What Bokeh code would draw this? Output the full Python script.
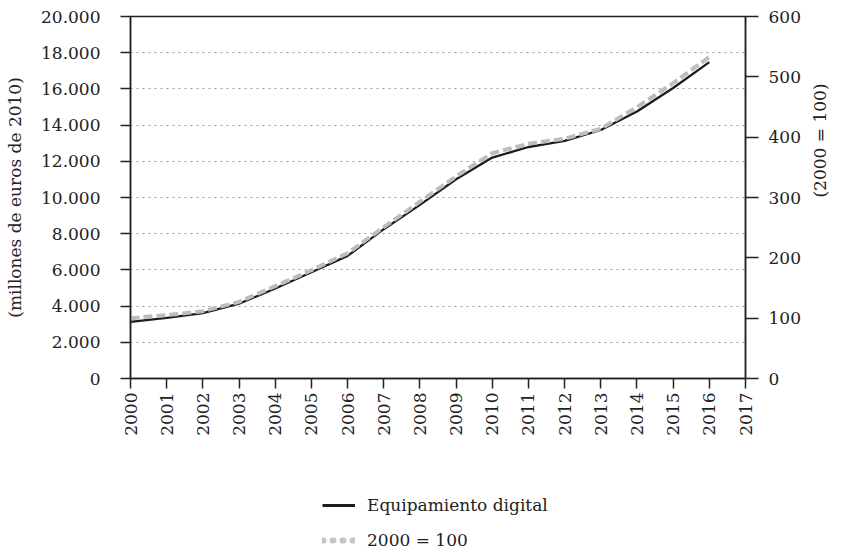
import math
from bokeh.plotting import figure
from bokeh.layouts import column
from bokeh.models import Range1d, LinearAxis, FixedTicker, Legend, LegendItem
from bokeh.embed import file_html
from bokeh.resources import INLINE

# ---- data ----
years = list(range(2000, 2017))
equipamiento = [3127, 3354, 3608, 4133, 4972, 5873, 6774, 8249, 9591, 11011,
                12205, 12790, 13133, 13730, 14752, 16050, 17476]
indice = [100, 105, 111.5, 127, 153, 179.5, 207.7, 250.8, 293, 335,
          373.4, 389, 397.5, 414, 449.7, 489.5, 533]
series_names = ["Equipamiento digital", "2000 = 100"]

x_ticks = list(range(2000, 2018))
left_ticks = list(range(0, 20001, 2000))
right_ticks = list(range(0, 601, 100))

FONT = "DejaVu Serif"
TXT = "#222222"
FS = "17px"
BLACK = dict(line_color="#1c1c1c", line_width=2.3)
GRAY = dict(line_color="#bdbdbd", line_width=4, line_dash="9 4")

p = figure(width=842, height=460, output_backend="svg", toolbar_location=None,
           x_range=Range1d(2000, 2017), y_range=Range1d(0, 20000),
           min_border_left=130, min_border_right=94, min_border_top=16,
           min_border_bottom=82)
p.extra_y_ranges = {"right": Range1d(0, 600)}

p.background_fill_color = "white"
p.border_fill_color = "white"
p.outline_line_color = TXT
p.outline_line_width = 1.5

# grids
p.xgrid.visible = False
p.ygrid.ticker = FixedTicker(ticks=left_ticks)
p.ygrid.grid_line_color = "#9a9a9a"
p.ygrid.grid_line_dash = "2 4"
p.ygrid.grid_line_width = 1.2

# x axis
xa = p.xaxis[0]
xa.ticker = FixedTicker(ticks=x_ticks)
xa.major_label_orientation = math.pi / 2
xa.major_tick_out = 10
xa.major_tick_in = 0
xa.minor_tick_line_color = None
xa.major_label_standoff = 4

# left axis
ya = p.yaxis[0]
ya.ticker = FixedTicker(ticks=left_ticks)
ya.major_label_overrides = {v: f"{v:,}".replace(",", ".") for v in left_ticks}
ya.major_tick_out = 10
ya.major_tick_in = 0
ya.minor_tick_line_color = None
ya.major_label_standoff = 20
ya.axis_label = "(millones de euros de 2010)"
ya.axis_label_standoff = 13

# right axis
ra = LinearAxis(y_range_name="right", ticker=FixedTicker(ticks=right_ticks))
ra.major_tick_out = 13
ra.major_tick_in = 0
ra.minor_tick_line_color = None
ra.major_label_standoff = 10
ra.axis_label = "(2000 = 100)"
ra.axis_label_standoff = 16
try:
    ra.axis_label_orientation = math.pi / 2
except Exception:
    pass
p.add_layout(ra, "right")

for ax in [xa, ya, ra]:
    ax.axis_line_color = TXT
    ax.axis_line_width = 1.5
    ax.major_tick_line_color = TXT
    ax.major_tick_line_width = 1.5
    ax.major_label_text_font = FONT
    ax.major_label_text_font_size = FS
    ax.major_label_text_color = TXT
    ax.axis_label_text_font = FONT
    ax.axis_label_text_font_size = FS
    ax.axis_label_text_font_style = "normal"
    ax.axis_label_text_color = TXT

p.line(years, equipamiento, **BLACK)
p.line(years, indice, y_range_name="right", **GRAY)

# legend strip below the chart (proxy lines lie outside its ranges)
q = figure(width=842, height=94, output_backend="svg", toolbar_location=None,
           x_axis_location=None, y_axis_location=None,
           x_range=Range1d(0, 1), y_range=Range1d(0, 1),
           min_border_left=130, min_border_right=94, min_border_top=0,
           min_border_bottom=0)
q.outline_line_color = None
q.grid.visible = False
q.background_fill_color = "white"
q.border_fill_color = "white"
lb = q.line(years[:2], equipamiento[:2], line_color="#1c1c1c", line_width=3.2)
lg = q.line(years[:2], indice[:2], line_color="#c4c4c4", line_width=6,
            line_dash="1 9", line_cap="round")

legend = Legend(items=[LegendItem(label=series_names[0], renderers=[lb]),
                       LegendItem(label=series_names[1], renderers=[lg])],
                location=(192, 4), orientation="vertical",
                glyph_width=33, glyph_height=20, label_height=20, spacing=15,
                padding=0, margin=0, label_standoff=12,
                background_fill_alpha=0, border_line_alpha=0,
                label_text_font=FONT, label_text_font_size=FS,
                label_text_color=TXT)
q.add_layout(legend)

open("out.html", "w").write(file_html(column(p, q), INLINE))
